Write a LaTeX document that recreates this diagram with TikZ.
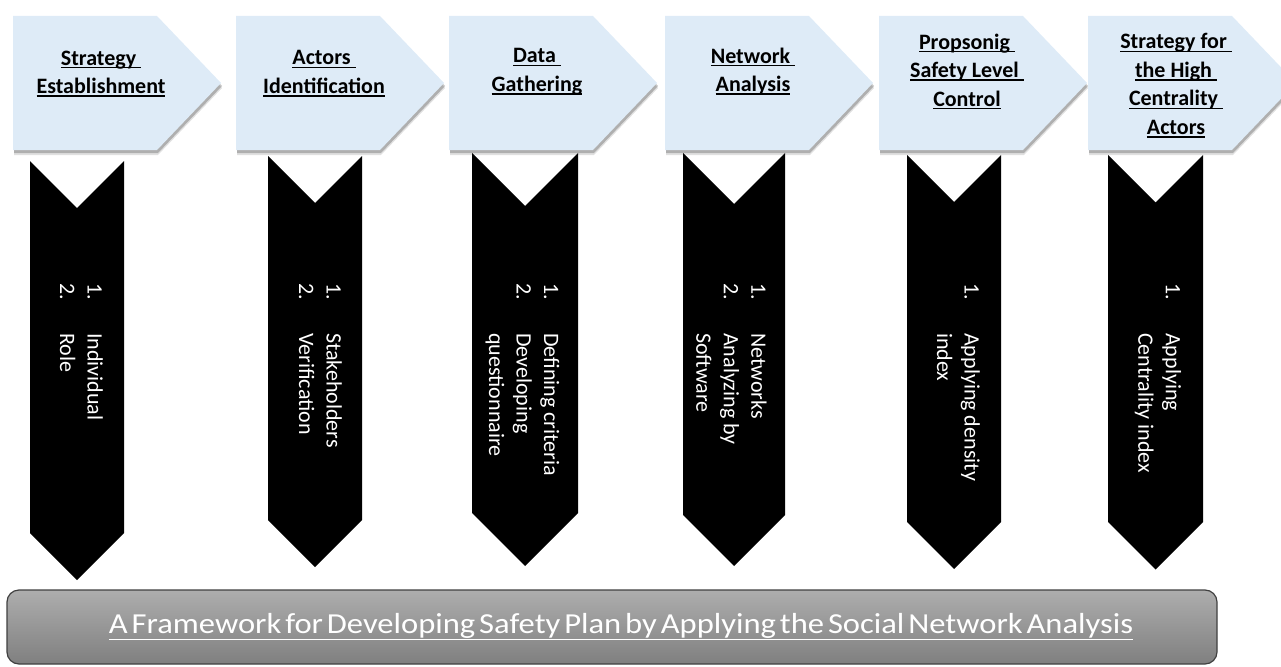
\documentclass[tikz,border=0pt]{standalone}
\usepackage{fontspec}
\usepackage{graphicx}
\setmainfont{Carlito}
\usetikzlibrary{shadows}
\definecolor{stepblue}{HTML}{DEEBF7}
\newcommand{\undl}[2][3.2pt]{\setbox0\hbox{#2}\rlap{\rule[-#1]{\wd0}{1.4pt}}\box0}
\newcommand{\itm}[2]{\makebox[50pt][l]{#1}#2}
\begin{document}
\begin{tikzpicture}[x=1pt,y=-1pt,
    stepshape/.style={fill=stepblue,
        general shadow={fill=black,opacity=.12,shadow xshift=1pt,shadow yshift=-5pt},
        general shadow={fill=black,opacity=.22,shadow xshift=1pt,shadow yshift=-3pt}},
    steplabel/.style={anchor=north,align=center,inner sep=0pt,font=\fontsize{22}{28.5}\selectfont\bfseries},
    chevron/.style={fill=black},
    itemtext/.style={rotate=-90,anchor=west,align=left,inner sep=0pt,text=white,font=\fontsize{22}{27.5}\selectfont}]
    \useasboundingbox (0,0) rectangle (1281,666);
    \foreach \l in {13,236,449,665,879,1088}
        \fill[stepshape] (\l,16) -- (\l+144,16) -- (\l+208,83) -- (\l+144,150) -- (\l,150) -- cycle;
    \foreach \l/\r/\t/\b in {30/124/161/533,268/362/156/520,472/578/153/513,683/785/153/515,907/1001/155/522,1108/1203/155/522}
        \fill[chevron] (\l,\t) -- ({(\l+\r)/2},{\t+(\r-\l)/2}) -- (\r,\t) -- (\r,\b) -- ({(\l+\r)/2},{\b+(\r-\l)/2}) -- (\l,\b) -- cycle;
    \node[steplabel] (s1) at (101,50.5) {\undl{Strategy\ }\\\undl{Establishment}};
    \node[steplabel] (s2) at (324,50.5) {\undl{Actors\ }\\\undl{Identification}};
    \node[steplabel] (s3) at (537,48.5) {\undl{Data\ }\\\undl{Gathering}};
    \node[steplabel] (s4) at (753,47.5) {\undl{Network\ }\\\undl{Analysis}};
    \node[steplabel] (s5) at (967,33.5) {\undl{Propsonig\ }\\\undl{Safety Level\ }\\\undl{Control}};
    \node[steplabel] (s6) at (1176,33.5) {\undl{Strategy for\ }\\\undl{the High\ }\\\undl{Centrality\ }\\\undl{Actors}};
    \node[itemtext] (i1) at (81.5,283) {\itm{1.}{Individual}\\\itm{2.}{Role}};
    \node[itemtext] (i2) at (320.5,283) {\itm{1.}{Stakeholders}\\\itm{2.}{Verification}};
    \node[itemtext] (i3) at (522.5,283) {\itm{1.}{Defining criteria}\\\itm{2.}{Developing}\\\hspace*{50pt}questionnaire};
    \node[itemtext] (i4) at (731.5,283) {\itm{1.}{Networks}\\\itm{2.}{Analyzing by}\\\hspace*{50pt}Software};
    \node[itemtext] (i5) at (958.5,283) {\itm{1.}{Applying density}\\\hspace*{50pt}index};
    \node[itemtext] (i6) at (1158,283) {\itm{1.}{Applying}\\\hspace*{50pt}Centrality index};
    \draw[black!75,line width=1.2pt,rounded corners=12pt,top color=black!32,bottom color=black!50] (7,590) rectangle (1217,664);
    \node[anchor=base,inner sep=0pt,text=white,font=\fontsize{29}{34}\selectfont] (title) at (621,633)
        {\resizebox{1024pt}{\height}{\spaceskip=.12em\undl[7pt]{A Framework for Developing Safety Plan by Applying the Social Network Analysis}}};
\end{tikzpicture}
\end{document}
